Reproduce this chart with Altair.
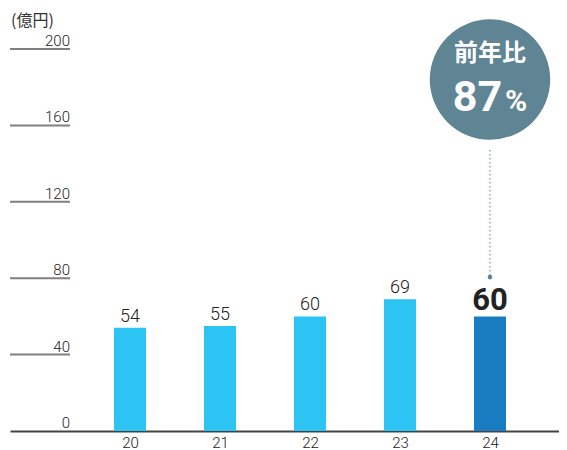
import altair as alt
import pandas as pd

# ---- data ----
years = [20, 21, 22, 23, 24]
values = [54, 55, 60, 69, 60]
bar_colors = ["#2CC5F3", "#2CC5F3", "#2CC5F3", "#2CC5F3", "#1B7DC1"]
y_ticks = [0, 40, 80, 120, 160, 200]
unit_label = ["(億円)"]
badge_title = ["前年比"]
badge_value = ["87"]
badge_unit = ["%"]
highlight_year = 24
badge_y = 184
pointer_top = 147
pointer_bottom = 80.6

bars_df = pd.DataFrame({"year": years, "value": values, "color": bar_colors})
normal_df = bars_df[bars_df["year"] != highlight_year]
hl_df = bars_df[bars_df["year"] == highlight_year]
ticks_df = pd.DataFrame({"v": y_ticks})

W, H = 549, 382
xs = alt.Scale(domain=[18.6667, 24.7667], nice=False, zero=False, padding=0)
ys = alt.Scale(domain=[0, 200], nice=False, padding=0)
NUM_FONT = "Roboto"
CJK_FONT = "Noto Sans CJK JP"
TXT = "#222222"

x_axis = alt.Axis(values=years, format="d", title=None, ticks=False, grid=False,
                  domainColor="#444444", domainWidth=2, labelFont=NUM_FONT,
                  labelFontSize=15, labelFontWeight=300, labelColor=TXT, labelPadding=4)

bars = alt.Chart(bars_df).mark_bar(size=32).encode(
    x=alt.X("year:Q", scale=xs, axis=x_axis),
    y=alt.Y("value:Q", scale=ys, axis=None),
    color=alt.Color("color:N", scale=None),
)

tick_lines = alt.Chart(ticks_df[ticks_df["v"] > 0]).mark_rule(color="#808080", strokeWidth=2).encode(
    x=alt.value(0), x2=alt.value(60), y=alt.Y("v:Q", scale=ys, axis=None)
)
tick_labels = alt.Chart(ticks_df).mark_text(
    align="right", baseline="alphabetic", dy=-3, font=NUM_FONT, fontSize=15, fontWeight=300, color=TXT
).encode(x=alt.value(60), y=alt.Y("v:Q", scale=ys, axis=None), text="v:Q")

bar_labels = alt.Chart(normal_df).mark_text(
    baseline="alphabetic", dy=-6, font=NUM_FONT, fontSize=18, fontWeight=300, color=TXT
).encode(x=alt.X("year:Q", scale=xs), y=alt.Y("value:Q", scale=ys), text="value:Q")

hl_label = alt.Chart(hl_df).mark_text(
    baseline="alphabetic", dy=-6, font=NUM_FONT, fontSize=31, fontWeight="bold", color="#222222"
).encode(x=alt.X("year:Q", scale=xs), y=alt.Y("value:Q", scale=ys), text="value:Q")

ptr_df = pd.DataFrame({"year": [highlight_year], "top": [pointer_top], "bottom": [pointer_bottom],
                       "by": [badge_y], "t1": badge_title, "t2": badge_value, "t3": badge_unit})

pointer = alt.Chart(ptr_df).mark_rule(color="#5F8494", strokeWidth=1.5, strokeDash=[1, 3]).encode(
    x=alt.X("year:Q", scale=xs), y=alt.Y("top:Q", scale=ys), y2="bottom:Q"
)
dot = alt.Chart(ptr_df).mark_point(filled=True, shape="circle", size=22, color="#5F8494", opacity=1).encode(
    x=alt.X("year:Q", scale=xs), y=alt.Y("bottom:Q", scale=ys)
)
badge = alt.Chart(ptr_df).mark_point(filled=True, shape="circle", size=14500, color="#5F8494", opacity=1).encode(
    x=alt.X("year:Q", scale=xs), y=alt.Y("by:Q", scale=ys)
)
badge_t1 = alt.Chart(ptr_df).mark_text(
    baseline="middle", dy=-26, font=CJK_FONT, fontSize=24, fontWeight="bold", color="white"
).encode(x=alt.X("year:Q", scale=xs), y=alt.Y("by:Q", scale=ys), text="t1:N")
badge_t2 = alt.Chart(ptr_df).mark_text(
    align="center", baseline="alphabetic", dx=-12.5, dy=31, font=NUM_FONT, fontSize=43, fontWeight="bold", color="white"
).encode(x=alt.X("year:Q", scale=xs), y=alt.Y("by:Q", scale=ys), text="t2:N")
badge_t3 = alt.Chart(ptr_df).mark_text(
    align="center", baseline="alphabetic", dx=26, dy=31, font=NUM_FONT, fontSize=30, fontWeight="bold", color="white"
).encode(x=alt.X("year:Q", scale=xs), y=alt.Y("by:Q", scale=ys), text="t3:N")

unit = alt.Chart(pd.DataFrame({"u": unit_label})).mark_text(
    align="left", baseline="middle", font=CJK_FONT, fontSize=16, color="#333333"
).encode(x=alt.value(1), y=alt.value(-28), text="u:N")

chart = alt.layer(
    tick_lines, tick_labels, bars, bar_labels, hl_label, pointer, dot, badge,
    badge_t1, badge_t2, badge_t3, unit
).properties(
    width=W, height=H,
    autosize=alt.AutoSizeParams(type="none"),
    padding={"left": 2, "top": 41, "right": 0, "bottom": 27},
).configure_view(stroke=None)

chart.save("out.html", embed_options={"renderer": "svg", "actions": False})
